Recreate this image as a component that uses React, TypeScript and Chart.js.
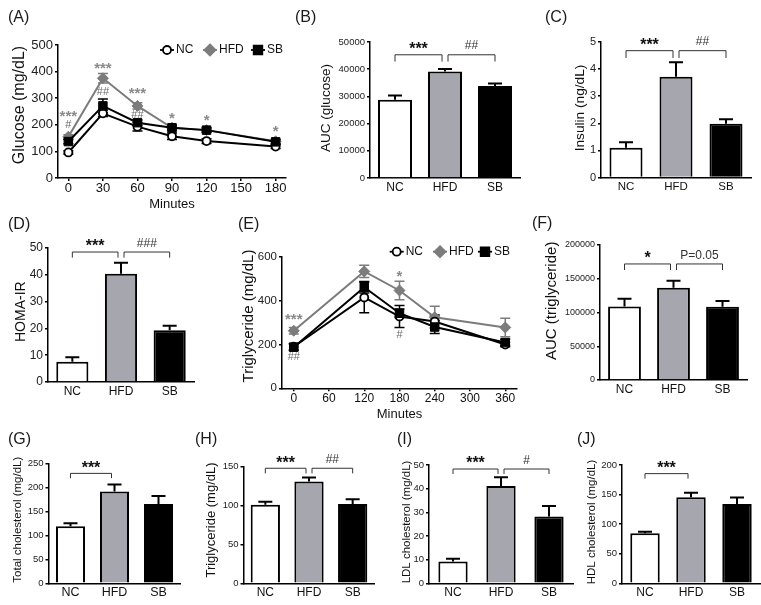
import React, { useEffect, useRef } from "react";
import { Chart, registerables } from "chart.js";

Chart.register(...registerables);

const FONT = "'Liberation Sans', Arial, Helvetica, sans-serif";
const HFD_FILL = "#a6a6ae";
const HFD_LINE = "#7c7c7c";
const NOTE_STAR = "#8a8a8a";
const NOTE_HASH = "#6a6a6a";

// ================= DATA =================
const groups = ["NC", "HFD", "SB"];

// (A) oral glucose tolerance
const glucoseMinutes = [0, 30, 60, 90, 120, 180];
const glucoseTicks = [0, 30, 60, 90, 120, 150, 180];
const glucoseNC = [96, 243, 193, 157, 139, 118];
const glucoseNCErr = [6, 12, 16, 12, 9, 7];
const glucoseHFD = [155, 375, 271, 189, 180, 138];
const glucoseHFDErr = [8, 18, 12, 8, 8, 8];
const glucoseSB = [137, 271, 208, 189, 180, 136];
const glucoseSBErr = [8, 26, 10, 8, 8, 8];
const glucoseStarX = [0, 30, 60, 90, 120, 180];
const glucoseStarY = [244, 425, 331, 237, 229, 188];
const glucoseStarText = ["***", "***", "***", "*", "*", "*"];
const glucoseHashX = [0, 30, 60];
const glucoseHashY = [199, 323, 237];
const glucoseHashText = ["#", "##", "##"];

// (B) AUC glucose
const aucGlucose = [28800, 39200, 33800];
const aucGlucoseErr = [1500, 900, 900];
const aucGlucoseBrackets = [
  { from: 0, to: 1, y: 45300, drop: 42800, text: "***" },
  { from: 1, to: 2, y: 45300, drop: 42800, text: "##" },
];

// (C) insulin
const insulin = [1.1, 3.72, 1.98];
const insulinErr = [0.2, 0.53, 0.17];
const insulinBrackets = [
  { from: 0, to: 1, y: 4.68, drop: 4.41, text: "***" },
  { from: 1, to: 2, y: 4.68, drop: 4.41, text: "##" },
];

// (D) HOMA-IR
const homaIR = [7.6, 40.4, 19.3];
const homaIRErr = [1.6, 4.1, 1.7];
const homaBrackets = [
  { from: 0, to: 1, y: 48.5, drop: 46.4, text: "***" },
  { from: 1, to: 2, y: 48.5, drop: 46.4, text: "###" },
];

// (E) oral fat tolerance (triglyceride)
const trigMinutes = [0, 120, 180, 240, 360];
const trigTicks = [0, 60, 120, 180, 240, 300, 360];
const trigNC = [190, 415, 328, 305, 200];
const trigNCErr = [15, 70, 50, 30, 10];
const trigHFD = [263, 534, 447, 325, 278];
const trigHFDErr = [15, 28, 42, 50, 42];
const trigSB = [188, 462, 343, 280, 209];
const trigSBErr = [15, 26, 19, 30, 15];
const trigStarX = [0, 180];
const trigStarY = [331, 524];
const trigStarText = ["***", "*"];
const trigHashX = [0, 180];
const trigHashY = [143, 244];
const trigHashText = ["##", "#"];

// (F) AUC triglyceride
const aucTrig = [109000, 136500, 108500];
const aucTrigErr = [11500, 10500, 8500];
const aucTrigBrackets = [
  { from: 0, to: 1, y: 171900, drop: 163000, text: "*" },
  { from: 1, to: 2, y: 171900, drop: 163000, text: "P=0.05" },
];

// (G) total cholesterol
const totalChol = [119, 191, 165];
const totalCholErr = [6, 15, 17];
const totalCholBrackets = [{ from: 0, to: 1, y: 229, drop: 219, text: "***" }];

// (H) serum triglyceride
const serumTrig = [101, 131, 102];
const serumTrigErr = [4, 5, 6];
const serumTrigBrackets = [
  { from: 0, to: 1, y: 148, drop: 141.4, text: "***" },
  { from: 1, to: 2, y: 148, drop: 141.4, text: "##" },
];

// (I) LDL cholesterol
const ldlChol = [9.2, 41.1, 28.2];
const ldlCholErr = [1.2, 3.7, 4.5];
const ldlBrackets = [
  { from: 0, to: 1, y: 48.3, drop: 46.2, text: "***" },
  { from: 1, to: 2, y: 48.3, drop: 46.2, text: "#" },
];

// (J) HDL cholesterol
const hdlChol = [84.5, 145.4, 134];
const hdlCholErr = [2.5, 7.6, 11];
const hdlBrackets = [{ from: 0, to: 1, y: 185.4, drop: 177, text: "***" }];

// ================= DRAWING HELPERS =================
type Box = { x: number; y: number; w: number; h: number };

function isStars(t: string) {
  return /^\*+$/.test(t);
}

function drawNote(ctx: any, text: string, x: number, yCenter: number, size: number, color: string) {
  const star = isStars(text);
  ctx.font = `${star ? "bold " : ""}${size}px ${FONT}`;
  ctx.fillStyle = color;
  ctx.textAlign = "center";
  ctx.textBaseline = "middle";
  const dy = star ? size * 0.24 : size * 0.02;
  ctx.fillText(text, x, yCenter + dy);
}

function drawMarker(ctx: any, style: string, x: number, y: number, color: string, fill: string) {
  ctx.beginPath();
  if (style === "circle") {
    ctx.arc(x, y, 4, 0, Math.PI * 2);
  } else if (style === "rect") {
    ctx.rect(x - 4.3, y - 4.3, 8.6, 8.6);
  } else {
    ctx.moveTo(x, y - 5.5);
    ctx.lineTo(x + 5.5, y);
    ctx.lineTo(x, y + 5.5);
    ctx.lineTo(x - 5.5, y);
    ctx.closePath();
  }
  ctx.fillStyle = fill;
  ctx.fill();
  ctx.lineWidth = 1.8;
  ctx.strokeStyle = color;
  ctx.stroke();
}

function makeOverlay(c: any) {
  return {
    id: "overlay",
    beforeDatasetsDraw(chart: any) {
      if (!c.lineErr) return;
      const ctx = chart.ctx;
      const xs = chart.scales.x;
      const ys = chart.scales.y;
      ctx.save();
      c.lineErr.forEach((s: any) => {
        ctx.strokeStyle = s.color;
        ctx.lineWidth = 1.5;
        s.x.forEach((xv: number, i: number) => {
          const px = xs.getPixelForValue(xv);
          const t = ys.getPixelForValue(s.y[i] + s.err[i]);
          const b = ys.getPixelForValue(s.y[i] - s.err[i]);
          ctx.beginPath();
          ctx.moveTo(px, t);
          ctx.lineTo(px, b);
          ctx.moveTo(px - 5, t);
          ctx.lineTo(px + 5, t);
          ctx.moveTo(px - 5, b);
          ctx.lineTo(px + 5, b);
          ctx.stroke();
        });
      });
      ctx.restore();
    },
    afterDatasetsDraw(chart: any) {
      if (!c.barErr) return;
      const ctx = chart.ctx;
      const ys = chart.scales.y;
      const meta = chart.getDatasetMeta(0);
      const vals = chart.data.datasets[0].data;
      ctx.save();
      ctx.strokeStyle = "#000";
      ctx.lineWidth = 2;
      meta.data.forEach((bar: any, i: number) => {
        const px = bar.x;
        const b = ys.getPixelForValue(vals[i]);
        const t = ys.getPixelForValue(vals[i] + c.barErr[i]);
        ctx.beginPath();
        ctx.moveTo(px, b);
        ctx.lineTo(px, t);
        ctx.moveTo(px - 7, t);
        ctx.lineTo(px + 7, t);
        ctx.stroke();
      });
      ctx.restore();
    },
    afterDraw(chart: any) {
      const ctx = chart.ctx;
      const xs = chart.scales.x;
      const ys = chart.scales.y;
      ctx.save();
      // panel letter
      ctx.font = `16px ${FONT}`;
      ctx.fillStyle = "#1a1a1a";
      ctx.textAlign = "left";
      ctx.textBaseline = "alphabetic";
      ctx.fillText(c.panel, c.panelX - c.ox, c.panelY - c.oy);
      // y title
      ctx.save();
      ctx.translate(c.yTitleX - c.ox, c.yTitleY - c.oy);
      ctx.rotate(-Math.PI / 2);
      ctx.font = `${c.yTitleSize}px ${FONT}`;
      ctx.fillStyle = "#111";
      ctx.textAlign = "center";
      ctx.textBaseline = "middle";
      ctx.fillText(c.yTitle, 0, 0);
      ctx.restore();
      // brackets
      (c.brackets || []).forEach((b: any) => {
        const x1 = xs.getPixelForValue(b.from) + (b.from === 1 ? 3 : 0);
        const x2 = xs.getPixelForValue(b.to) + (b.to === 1 ? -3 : 0);
        const y = ys.getPixelForValue(b.y);
        const yd = ys.getPixelForValue(b.drop);
        ctx.strokeStyle = "#333";
        ctx.lineWidth = 1;
        ctx.beginPath();
        ctx.moveTo(x1, yd);
        ctx.lineTo(x1, y);
        ctx.lineTo(x2, y);
        ctx.lineTo(x2, yd);
        ctx.stroke();
        const star = isStars(b.text);
        drawNote(ctx, b.text, (x1 + x2) / 2, y - 9, star ? 16 : 12, star ? "#111" : "#333");
      });
      // marks (significance on line charts)
      (c.marks || []).forEach((m: any) => {
        drawNote(ctx, m.text, xs.getPixelForValue(m.x), ys.getPixelForValue(m.y), m.size, m.color);
      });
      // legend
      if (c.legend) {
        const ly = c.legend.y - c.oy;
        c.legend.items.forEach((it: any) => {
          const mx = it.mx - c.ox;
          ctx.strokeStyle = it.color;
          ctx.lineWidth = 1.8;
          ctx.beginPath();
          ctx.moveTo(mx - 7, ly);
          ctx.lineTo(mx + 7, ly);
          ctx.stroke();
          drawMarker(ctx, it.style, mx, ly, it.color, it.fill);
          ctx.font = `12px ${FONT}`;
          ctx.fillStyle = "#111";
          ctx.textAlign = "left";
          ctx.textBaseline = "middle";
          ctx.fillText(it.label, it.tx - c.ox, ly);
        });
      }
      ctx.restore();
    },
  };
}

function yScale(max: number, step: number, width: number, tickSize: number) {
  return {
    min: 0,
    max,
    afterFit: (s: any) => {
      s.width = width;
    },
    ticks: {
      stepSize: step,
      font: { family: FONT, size: tickSize },
      color: "#222",
      padding: 2,
      callback: (v: any) => String(v),
    },
    grid: { drawOnChartArea: false, drawTicks: true, tickLength: 3, color: "#000", lineWidth: 1.5 },
    border: { display: true, color: "#000", width: 1.5 },
  };
}

function barConfig(s: any) {
  return {
    type: "bar",
    data: {
      labels: groups,
      datasets: [
        {
          data: s.values,
          backgroundColor: ["#ffffff", HFD_FILL, "#000000"],
          borderColor: "#000",
          borderWidth: 2,
          barPercentage: s.barPct,
          categoryPercentage: 1,
        },
      ],
    },
    options: {
      responsive: false,
      animation: false,
      layout: { padding: { left: 0, top: s.T - s.box.y, right: s.box.x + s.box.w - s.R, bottom: 0 } },
      plugins: { legend: { display: false }, tooltip: { enabled: false } },
      scales: {
        x: {
          type: "category",
          offset: true,
          afterFit: (sc: any) => {
            sc.height = s.box.y + s.box.h - s.B;
          },
          ticks: { font: { family: FONT, size: s.labelSize }, color: "#111", padding: 2 },
          grid: { display: false, drawTicks: false },
          border: { display: true, color: "#000", width: 1.5 },
        },
        y: yScale(s.max, s.step, s.L - s.box.x, s.tickSize),
      },
    },
    plugins: [
      makeOverlay({
        ox: s.box.x,
        oy: s.box.y,
        panel: s.panel,
        panelX: s.panelX,
        panelY: s.panelY,
        yTitle: s.yTitle,
        yTitleX: s.yTitleX,
        yTitleY: s.yTitleY,
        yTitleSize: s.yTitleSize,
        barErr: s.err,
        brackets: s.brackets,
      }),
    ],
  };
}

function pts(xs: number[], ys: number[]) {
  return xs.map((x, i) => ({ x, y: ys[i] }));
}

function lineConfig(s: any) {
  const marks: any[] = [];
  s.starX.forEach((x: number, i: number) =>
    marks.push({ x, y: s.starY[i], text: s.starText[i], size: 15, color: NOTE_STAR })
  );
  s.hashX.forEach((x: number, i: number) =>
    marks.push({ x, y: s.hashY[i], text: s.hashText[i], size: 11, color: NOTE_HASH })
  );
  return {
    type: "line",
    data: {
      datasets: [
        {
          label: "NC",
          data: pts(s.x, s.nc),
          borderColor: "#000",
          borderWidth: 2,
          pointStyle: "circle",
          pointRadius: 4,
          pointBackgroundColor: "#fff",
          pointBorderColor: "#000",
          pointBorderWidth: 1.8,
          order: 1,
        },
        {
          label: "HFD",
          data: pts(s.x, s.hfd),
          borderColor: HFD_LINE,
          borderWidth: 2,
          pointStyle: "rectRot",
          pointRadius: 5.5,
          pointBackgroundColor: HFD_LINE,
          pointBorderColor: HFD_LINE,
          pointBorderWidth: 1,
          order: 2,
        },
        {
          label: "SB",
          data: pts(s.x, s.sb),
          borderColor: "#000",
          borderWidth: 2,
          pointStyle: "rect",
          pointRadius: 6,
          pointBackgroundColor: "#000",
          pointBorderColor: "#000",
          pointBorderWidth: 1,
          order: 0,
        },
      ],
    },
    options: {
      responsive: false,
      animation: false,
      layout: { padding: { left: 0, top: s.T - s.box.y, right: s.box.x + s.box.w - s.R, bottom: 0 } },
      plugins: { legend: { display: false }, tooltip: { enabled: false } },
      scales: {
        x: {
          type: "linear",
          min: s.xMin,
          max: s.xMax,
          afterFit: (sc: any) => {
            sc.height = s.box.y + s.box.h - s.B;
          },
          afterBuildTicks: (sc: any) => {
            sc.ticks = s.ticks.map((v: number) => ({ value: v }));
          },
          ticks: {
            font: { family: FONT, size: s.xTickSize },
            color: "#111",
            padding: 0,
            autoSkip: false,
            maxRotation: 0,
            callback: (v: any) => String(v),
          },
          grid: { drawOnChartArea: false, drawTicks: true, tickLength: 3, color: "#000", lineWidth: 1.5 },
          border: { display: true, color: "#000", width: 1.5 },
          title: {
            display: true,
            text: "Minutes",
            font: { family: FONT, size: 13 },
            color: "#111",
            padding: { top: 0, bottom: s.minutesPad },
          },
        },
        y: yScale(s.max, s.step, s.L - s.box.x, s.yTickSize),
      },
    },
    plugins: [
      makeOverlay({
        ox: s.box.x,
        oy: s.box.y,
        panel: s.panel,
        panelX: s.panelX,
        panelY: s.panelY,
        yTitle: s.yTitle,
        yTitleX: s.yTitleX,
        yTitleY: s.yTitleY,
        yTitleSize: s.yTitleSize,
        lineErr: [
          { x: s.x, y: s.hfd, err: s.hfdErr, color: HFD_LINE },
          { x: s.x, y: s.nc, err: s.ncErr, color: "#000" },
          { x: s.x, y: s.sb, err: s.sbErr, color: "#000" },
        ],
        marks,
        legend: {
          y: s.legendY,
          items: [
            { label: "NC", style: "circle", color: "#000", fill: "#fff", mx: s.legendX[0], tx: s.legendX[0] + 9 },
            { label: "HFD", style: "rectRot", color: HFD_LINE, fill: HFD_LINE, mx: s.legendX[1], tx: s.legendX[1] + 9 },
            { label: "SB", style: "rect", color: "#000", fill: "#000", mx: s.legendX[2], tx: s.legendX[2] + 9 },
          ],
        },
      }),
    ],
  };
}

// ================= PANELS =================
const panels: { key: string; box: Box; config: () => any }[] = [
  {
    key: "A",
    box: { x: 0, y: 0, w: 293, h: 215 },
    config: () =>
      lineConfig({
        box: { x: 0, y: 0, w: 293, h: 215 },
        L: 58, R: 290.7, T: 45, B: 178,
        xMin: -9, xMax: 189, ticks: glucoseTicks, xTickSize: 13, yTickSize: 13,
        max: 500, step: 100, minutesPad: 3,
        x: glucoseMinutes, nc: glucoseNC, ncErr: glucoseNCErr, hfd: glucoseHFD, hfdErr: glucoseHFDErr,
        sb: glucoseSB, sbErr: glucoseSBErr,
        starX: glucoseStarX, starY: glucoseStarY, starText: glucoseStarText,
        hashX: glucoseHashX, hashY: glucoseHashY, hashText: glucoseHashText,
        panel: "(A)", panelX: 8, panelY: 22,
        yTitle: "Glucose (mg/dL)", yTitleX: 20, yTitleY: 105, yTitleSize: 16,
        legendY: 50, legendX: [167, 210, 258],
      }),
  },
  {
    key: "B",
    box: { x: 293, y: 0, w: 237, h: 200 },
    config: () =>
      barConfig({
        box: { x: 293, y: 0, w: 237, h: 200 },
        L: 370, R: 520, T: 42, B: 178,
        max: 50000, step: 10000, tickSize: 9.5, labelSize: 12, barPct: 0.68,
        values: aucGlucose, err: aucGlucoseErr, brackets: aucGlucoseBrackets,
        panel: "(B)", panelX: 295, panelY: 22,
        yTitle: "AUC (glucose)", yTitleX: 326, yTitleY: 108, yTitleSize: 13.5,
      }),
  },
  {
    key: "C",
    box: { x: 530, y: 0, w: 231, h: 200 },
    config: () =>
      barConfig({
        box: { x: 530, y: 0, w: 231, h: 200 },
        L: 601, R: 751, T: 42, B: 177.5,
        max: 5, step: 1, tickSize: 11, labelSize: 11.5, barPct: 0.66,
        values: insulin, err: insulinErr, brackets: insulinBrackets,
        panel: "(C)", panelX: 545, panelY: 22,
        yTitle: "Insulin (ng/dL)", yTitleX: 580, yTitleY: 108, yTitleSize: 13.7,
      }),
  },
  {
    key: "D",
    box: { x: 0, y: 200, w: 225, h: 205 },
    config: () =>
      barConfig({
        box: { x: 0, y: 200, w: 225, h: 205 },
        L: 48, R: 194, T: 248, B: 382,
        max: 50, step: 10, tickSize: 12, labelSize: 12, barPct: 0.66,
        values: homaIR, err: homaIRErr, brackets: homaBrackets,
        panel: "(D)", panelX: 8, panelY: 229,
        yTitle: "HOMA-IR", yTitleX: 20.7, yTitleY: 311.7, yTitleSize: 14,
      }),
  },
  {
    key: "E",
    box: { x: 225, y: 200, w: 300, h: 225 },
    config: () =>
      lineConfig({
        box: { x: 225, y: 200, w: 300, h: 225 },
        L: 282, R: 517, T: 257, B: 388.3,
        xMin: -20, xMax: 380, ticks: trigTicks, xTickSize: 12, yTickSize: 11.5,
        max: 600, step: 200, minutesPad: 3,
        x: trigMinutes, nc: trigNC, ncErr: trigNCErr, hfd: trigHFD, hfdErr: trigHFDErr,
        sb: trigSB, sbErr: trigSBErr,
        starX: trigStarX, starY: trigStarY, starText: trigStarText,
        hashX: trigHashX, hashY: trigHashY, hashText: trigHashText,
        panel: "(E)", panelX: 238, panelY: 229,
        yTitle: "Triglyceride (mg/dL)", yTitleX: 249, yTitleY: 316, yTitleSize: 15,
        legendY: 251.7, legendX: [396.7, 440, 485],
      }),
  },
  {
    key: "F",
    box: { x: 525, y: 200, w: 236, h: 205 },
    config: () =>
      barConfig({
        box: { x: 525, y: 200, w: 236, h: 205 },
        L: 600, R: 747, T: 245, B: 380,
        max: 200000, step: 50000, tickSize: 9, labelSize: 12, barPct: 0.67,
        values: aucTrig, err: aucTrigErr, brackets: aucTrigBrackets,
        panel: "(F)", panelX: 532, panelY: 228,
        yTitle: "AUC (triglyceride)", yTitleX: 551.7, yTitleY: 300.8, yTitleSize: 15,
      }),
  },
  {
    key: "G",
    box: { x: 0, y: 425, w: 190, h: 180 },
    config: () =>
      barConfig({
        box: { x: 0, y: 425, w: 190, h: 180 },
        L: 48.5, R: 180.5, T: 463.3, B: 583.3,
        max: 250, step: 50, tickSize: 9.5, labelSize: 12.5, barPct: 0.66,
        values: totalChol, err: totalCholErr, brackets: totalCholBrackets,
        panel: "(G)", panelX: 8, panelY: 444,
        yTitle: "Total cholesterol (mg/dL)", yTitleX: 18.3, yTitleY: 519.7, yTitleSize: 11.5,
      }),
  },
  {
    key: "H",
    box: { x: 190, y: 425, w: 188, h: 180 },
    config: () =>
      barConfig({
        box: { x: 190, y: 425, w: 188, h: 180 },
        L: 243.5, R: 374.5, T: 466.7, B: 583.3,
        max: 150, step: 50, tickSize: 9.5, labelSize: 12, barPct: 0.67,
        values: serumTrig, err: serumTrigErr, brackets: serumTrigBrackets,
        panel: "(H)", panelX: 195, panelY: 444,
        yTitle: "Triglyceride (mg/dL)", yTitleX: 211.7, yTitleY: 520, yTitleSize: 13,
      }),
  },
  {
    key: "I",
    box: { x: 378, y: 425, w: 197, h: 180 },
    config: () =>
      barConfig({
        box: { x: 378, y: 425, w: 197, h: 180 },
        L: 429, R: 573, T: 465, B: 583.3,
        max: 50, step: 10, tickSize: 9.5, labelSize: 12, barPct: 0.61,
        values: ldlChol, err: ldlCholErr, brackets: ldlBrackets,
        panel: "(I)", panelX: 397, panelY: 444,
        yTitle: "LDL cholesterol (mg/dL)", yTitleX: 406.7, yTitleY: 522, yTitleSize: 11.5,
      }),
  },
  {
    key: "J",
    box: { x: 575, y: 425, w: 186, h: 180 },
    config: () =>
      barConfig({
        box: { x: 575, y: 425, w: 186, h: 180 },
        L: 622, R: 760, T: 465, B: 583.3,
        max: 200, step: 50, tickSize: 9.5, labelSize: 12, barPct: 0.64,
        values: hdlChol, err: hdlCholErr, brackets: hdlBrackets,
        panel: "(J)", panelX: 577, panelY: 444,
        yTitle: "HDL cholesterol (mg/dL)", yTitleX: 591.7, yTitleY: 522, yTitleSize: 11.5,
      }),
  },
];

function ChartPanel({ box, config }: { box: Box; config: () => any }) {
  const ref = useRef<HTMLCanvasElement>(null);
  useEffect(() => {
    if (!ref.current) return;
    const chart = new Chart(ref.current, config());
    return () => chart.destroy();
  }, []);
  return (
    <canvas
      ref={ref}
      width={box.w}
      height={box.h}
      style={{ position: "absolute", left: box.x, top: box.y, width: box.w, height: box.h }}
    />
  );
}

export default function App() {
  return (
    <div
      style={{
        position: "absolute",
        left: 0,
        top: 0,
        width: 761,
        height: 605,
        background: "#ffffff",
        overflow: "hidden",
      }}
    >
      {panels.map((p) => (
        <ChartPanel key={p.key} box={p.box} config={p.config} />
      ))}
    </div>
  );
}
